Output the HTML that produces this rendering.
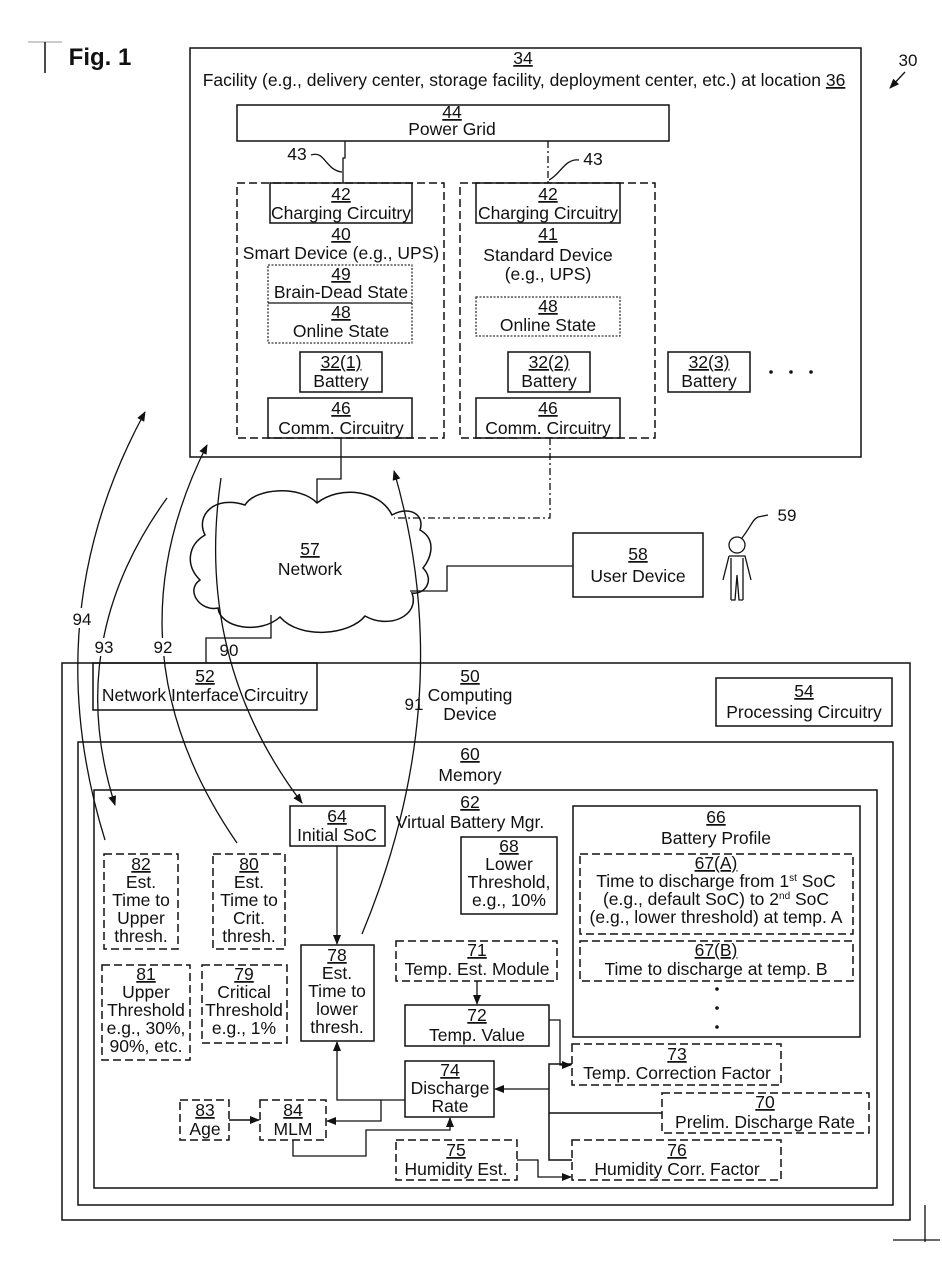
<!DOCTYPE html>
<html><head><meta charset="utf-8"><style>
html,body{margin:0;padding:0;background:#fff}
svg{display:block}
text{font-family:"Liberation Sans",sans-serif;font-size:17.5px;fill:#111;text-anchor:middle}
.u{text-decoration:underline}
.b{fill:none;stroke:#111;stroke-width:1.5}
.d{fill:none;stroke:#111;stroke-width:1.5;stroke-dasharray:8 4}
.dt{fill:none;stroke:#333;stroke-width:1.3;stroke-dasharray:2 1.5}
.l{fill:none;stroke:#111;stroke-width:1.3}
</style></head><body>
<svg width="942" height="1263" viewBox="0 0 942 1263" xmlns="http://www.w3.org/2000/svg">
<defs>
<marker id="a" markerWidth="10" markerHeight="8" refX="9" refY="4" orient="auto" markerUnits="userSpaceOnUse"><path d="M0,0 L10,4 L0,8 z" fill="#111"/></marker>
</defs>
<line x1="28" y1="42" x2="62" y2="42" stroke="#999" stroke-width="1"/>
<line x1="45" y1="42" x2="45" y2="73" stroke="#111" stroke-width="1.5"/>
<text x="100" y="65" style="font-size:24px;font-weight:bold">Fig. 1</text>
<text x="908" y="66" style="font-size:17px">30</text>
<line x1="905" y1="72" x2="890" y2="88" class="l" marker-end="url(#a)"/>

<rect x="190" y="48" width="671" height="409" class="b"/>
<text x="523" y="64" class="u">34</text>
<text x="524" y="86">Facility (e.g., delivery center, storage facility, deployment center, etc.) at location <tspan class="u">36</tspan></text>
<rect x="237" y="105" width="432" height="36" class="b" stroke-width="1.2"/>
<text x="452" y="118" class="u">44</text>
<text x="452" y="135">Power Grid</text>
<path d="M345,141 V158 H343 V183" class="l"/>
<text x="297" y="160">43</text>
<path d="M311,155 C325,150 325,170 342,172" class="l"/>
<path d="M548,141 V183" class="l" stroke-dasharray="7 3 2 3"/>
<text x="593" y="165">43</text>
<path d="M579,160 C565,158 560,175 549,180" class="l"/>

<rect x="237" y="183" width="207" height="255" class="d"/>
<rect x="270" y="183" width="142" height="40" class="b"/>
<text x="341" y="200" class="u">42</text>
<text x="341" y="219">Charging Circuitry</text>
<text x="341" y="240" class="u">40</text>
<text x="341" y="259">Smart Device (e.g., UPS)</text>
<rect x="268" y="265" width="144" height="78" class="dt"/>
<line x1="268" y1="303" x2="412" y2="303" stroke="#111" stroke-width="1.2"/>
<text x="341" y="280" class="u">49</text>
<text x="341" y="298">Brain-Dead State</text>
<text x="341" y="318" class="u">48</text>
<text x="341" y="337">Online State</text>
<rect x="300" y="352" width="82" height="40" class="b"/>
<text x="341" y="368" class="u">32(1)</text>
<text x="341" y="387">Battery</text>
<rect x="268" y="398" width="144" height="40" class="b"/>
<text x="341" y="414" class="u">46</text>
<text x="341" y="434">Comm. Circuitry</text>

<rect x="460" y="183" width="195" height="255" class="d"/>
<rect x="476" y="183" width="144" height="40" class="b"/>
<text x="548" y="200" class="u">42</text>
<text x="548" y="219">Charging Circuitry</text>
<text x="548" y="240" class="u">41</text>
<text x="548" y="261">Standard Device</text>
<text x="548" y="280">(e.g., UPS)</text>
<rect x="476" y="297" width="144" height="39" class="dt"/>
<text x="548" y="312" class="u">48</text>
<text x="548" y="331">Online State</text>
<rect x="508" y="352" width="82" height="40" class="b"/>
<text x="549" y="368" class="u">32(2)</text>
<text x="549" y="387">Battery</text>
<rect x="476" y="398" width="144" height="40" class="b"/>
<text x="548" y="414" class="u">46</text>
<text x="548" y="434">Comm. Circuitry</text>
<rect x="668" y="352" width="82" height="40" class="b"/>
<text x="709" y="368" class="u">32(3)</text>
<text x="709" y="387">Battery</text>
<circle cx="771" cy="372" r="1.8" fill="#111"/><circle cx="791" cy="372" r="1.8" fill="#111"/><circle cx="811" cy="372" r="1.8" fill="#111"/>

<path d="M341,438 V479 H317 V503" class="l"/>
<path d="M550,438 V518 H394" class="l" stroke-dasharray="7 3 2 3"/>
<path d="M410,591 H447 V566 H573" class="l"/>
<path d="M271,615 V638 H206 V663" class="l"/>
<path d="M317,503 C340,485 380,490 392,515 C410,505 425,515 420,530 C438,540 430,560 423,568 C435,580 425,595 412,593 C420,615 390,630 365,616 C350,635 300,640 280,617 C260,635 220,628 218,608 C200,612 185,590 200,580 C185,565 188,545 205,535 C195,515 215,495 245,505 C255,488 300,485 317,503 Z" fill="#fff" class="b"/>
<text x="310" y="555" class="u">57</text>
<text x="310" y="575">Network</text>

<rect x="573" y="533" width="130" height="64" class="b" stroke-width="1.2"/>
<text x="638" y="560" class="u">58</text>
<text x="638" y="582">User Device</text>
<circle cx="737" cy="545" r="8" class="l"/>
<path d="M729,556 H745 L751,580 M729,556 L723,580 M731,558 V600 M743,558 V600 M731,600 L735,600 L737,575 L739,600 L743,600" class="l"/>
<path d="M742,538 C752,525 752,520 758,517 L768,515" class="l"/>
<text x="787" y="521" style="font-size:17px">59</text>

<rect x="62" y="663" width="848" height="557" class="b"/>
<line x1="925" y1="1205" x2="925" y2="1242" class="l"/>
<line x1="893" y1="1240" x2="940" y2="1240" class="l"/>
<rect x="93" y="663" width="224" height="47" class="b" stroke-width="1.2"/>
<text x="205" y="682" class="u">52</text>
<text x="205" y="701">Network Interface Circuitry</text>
<text x="470" y="682" class="u">50</text>
<text x="470" y="701">Computing</text>
<text x="470" y="720">Device</text>
<rect x="716" y="678" width="176" height="48" class="b"/>
<text x="804" y="697" class="u">54</text>
<text x="804" y="718">Processing Circuitry</text>

<rect x="78" y="742" width="815" height="463" class="b"/>
<text x="470" y="760" class="u">60</text>
<text x="470" y="781">Memory</text>
<rect x="94" y="790" width="783" height="398" class="b" stroke-width="1.2"/>
<text x="470" y="808" class="u">62</text>
<text x="470" y="828">Virtual Battery Mgr.</text>

<rect x="290" y="806" width="95" height="40" class="b"/>
<text x="337" y="822" class="u">64</text>
<text x="337" y="841">Initial SoC</text>
<rect x="461" y="837" width="96" height="77" class="b"/>
<text x="509" y="852" class="u">68</text>
<text x="509" y="870">Lower</text>
<text x="509" y="888">Threshold,</text>
<text x="509" y="906">e.g., 10%</text>

<rect x="573" y="806" width="287" height="231" class="b"/>
<text x="716" y="823" class="u">66</text>
<text x="716" y="844">Battery Profile</text>
<rect x="580" y="854" width="273" height="80" class="d"/>
<text x="716" y="869" class="u">67(A)</text>
<text x="716" y="887">Time to discharge from 1<tspan style="font-size:10px" dy="-6">st</tspan><tspan dy="6"> SoC</tspan></text>
<text x="716" y="905">(e.g., default SoC) to 2<tspan style="font-size:10px" dy="-6">nd</tspan><tspan dy="6"> SoC</tspan></text>
<text x="716" y="923">(e.g., lower threshold) at temp. A</text>
<rect x="580" y="941" width="273" height="40" class="d"/>
<text x="716" y="956" class="u">67(B)</text>
<text x="716" y="975">Time to discharge at temp. B</text>
<circle cx="717" cy="989" r="1.8" fill="#111"/><circle cx="717" cy="1008" r="1.8" fill="#111"/><circle cx="717" cy="1027" r="1.8" fill="#111"/>

<rect x="104" y="854" width="74" height="95" class="d"/>
<text x="141" y="870" class="u">82</text>
<text x="141" y="888">Est.</text>
<text x="141" y="906">Time to</text>
<text x="141" y="924">Upper</text>
<text x="141" y="942">thresh.</text>
<rect x="213" y="854" width="72" height="95" class="d"/>
<text x="249" y="870" class="u">80</text>
<text x="249" y="888">Est.</text>
<text x="249" y="906">Time to</text>
<text x="249" y="924">Crit.</text>
<text x="249" y="942">thresh.</text>
<rect x="102" y="965" width="88" height="95" class="d"/>
<text x="146" y="980" class="u">81</text>
<text x="146" y="998">Upper</text>
<text x="146" y="1016">Threshold</text>
<text x="146" y="1034">e.g., 30%,</text>
<text x="146" y="1052">90%, etc.</text>
<rect x="202" y="965" width="85" height="78" class="d"/>
<text x="244" y="980" class="u">79</text>
<text x="244" y="998">Critical</text>
<text x="244" y="1016">Threshold</text>
<text x="244" y="1034">e.g., 1%</text>

<rect x="301" y="945" width="73" height="96" class="b"/>
<text x="337" y="961" class="u">78</text>
<text x="337" y="979">Est.</text>
<text x="337" y="997">Time to</text>
<text x="337" y="1015">lower</text>
<text x="337" y="1033">thresh.</text>
<rect x="396" y="941" width="161" height="40" class="d"/>
<text x="477" y="956" class="u">71</text>
<text x="477" y="975">Temp. Est. Module</text>
<rect x="405" y="1005" width="144" height="41" class="b"/>
<text x="477" y="1021" class="u">72</text>
<text x="477" y="1041">Temp. Value</text>
<rect x="572" y="1044" width="209" height="41" class="d"/>
<text x="677" y="1060" class="u">73</text>
<text x="677" y="1079">Temp. Correction Factor</text>
<rect x="405" y="1061" width="89" height="56" class="b"/>
<text x="450" y="1076" class="u">74</text>
<text x="450" y="1094">Discharge</text>
<text x="450" y="1112">Rate</text>
<rect x="662" y="1093" width="207" height="40" class="d"/>
<text x="765" y="1108" class="u">70</text>
<text x="765" y="1128">Prelim. Discharge Rate</text>
<rect x="572" y="1140" width="209" height="40" class="d"/>
<text x="677" y="1156" class="u">76</text>
<text x="677" y="1175">Humidity Corr. Factor</text>
<rect x="396" y="1140" width="121" height="40" class="d"/>
<text x="456" y="1156" class="u">75</text>
<text x="456" y="1175">Humidity Est.</text>
<rect x="180" y="1100" width="49" height="40" class="d"/>
<text x="205" y="1116" class="u">83</text>
<text x="205" y="1135">Age</text>
<rect x="260" y="1100" width="66" height="40" class="d"/>
<text x="293" y="1116" class="u">84</text>
<text x="293" y="1135">MLM</text>

<line x1="337" y1="846" x2="337" y2="944" class="l" marker-end="url(#a)"/>
<line x1="477" y1="981" x2="477" y2="1004" class="l" marker-end="url(#a)"/>
<path d="M549,1020 H560 V1065 H571" class="l" marker-end="url(#a)"/>
<path d="M572,1064 H549 V1160 H572" class="b"/>
<line x1="549" y1="1089" x2="495" y2="1089" class="l" marker-end="url(#a)"/>
<line x1="549" y1="1113" x2="662" y2="1113" class="b"/>
<path d="M517,1160 H538 V1177 H571" class="l" marker-end="url(#a)"/>
<path d="M405,1100 H337 V1042" class="l" marker-end="url(#a)"/>
<path d="M381,1100 V1121 H327" class="l" marker-end="url(#a)"/>
<line x1="229" y1="1120" x2="259" y2="1120" class="b" marker-end="url(#a)"/>
<path d="M293,1140 V1156 H366 V1130 H450 V1118" class="l" marker-end="url(#a)"/>

<path d="M105,840 Q35,614 145,412" class="l" marker-end="url(#a)"/>
<path d="M167,498 Q63,642 115,805" class="l" marker-end="url(#a)"/>
<path d="M237,843 Q104,650 207,445" class="l" marker-end="url(#a)"/>
<path d="M221,478 Q194,660 302,803" class="l" marker-end="url(#a)"/>
<path d="M362,934 Q460,698 394,471" class="l" marker-end="url(#a)"/>
<rect x="70" y="608" width="26" height="20" fill="#fff"/>
<text x="82" y="625" style="font-size:17px">94</text>
<rect x="92" y="638" width="26" height="18" fill="#fff"/>
<text x="104" y="653" style="font-size:17px">93</text>
<rect x="150" y="638" width="26" height="18" fill="#fff"/>
<text x="163" y="653" style="font-size:17px">92</text>
<text x="229" y="656" style="font-size:17px">90</text>
<text x="414" y="710" style="font-size:17px">91</text>
</svg>
</body></html>
